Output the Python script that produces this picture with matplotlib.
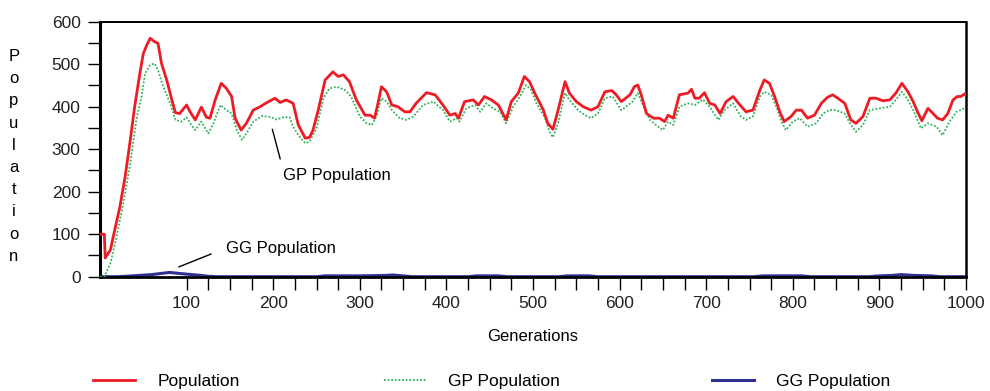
import numpy as np
import matplotlib
matplotlib.use("Agg")
import matplotlib.pyplot as plt
from matplotlib.ticker import FixedLocator

plt.rcParams["font.family"] = ["Liberation Sans", "DejaVu Sans"]

# ------------------------------------------------------
# DATA
# ------------------------------------------------------

pop_gen = [0, 5, 6, 12, 17, 23, 29, 35, 40, 46, 50, 54, 58, 63, 67, 71, 77, 83, 87, 92,
           100, 104, 110, 117, 123, 127, 133, 140, 146, 152, 156, 163, 169, 177, 185, 192,
           202, 208, 215, 223, 229, 237, 242, 246, 252, 260, 269, 275, 281, 288, 296,
           306, 312, 317, 321, 325, 331, 337, 344, 352, 358, 365, 377, 387, 396,
           404, 410, 414, 421, 431, 437, 444, 452, 460, 469, 475, 483, 490, 496,
           502, 512, 517, 523, 529, 537, 542, 550, 558, 567, 575, 583, 591, 596,
           602, 612, 617, 621, 625, 631, 639, 646, 652, 656, 662, 669, 679, 683, 687, 692, 698,
           704, 710, 716, 723, 731, 739, 746, 754, 762, 767, 773, 779, 785, 790, 798,
           804, 810, 817, 825, 833, 840, 846, 852, 860, 867, 873, 881, 889, 896,
           904, 912, 919, 926, 933, 939, 944, 949, 956, 962, 967, 973, 979, 985, 990, 994, 1000]
pop_val = [100, 100, 44, 63, 110, 165, 235, 322, 400, 478, 525, 545, 561, 553, 549, 502, 463, 416, 386, 384,
           404, 388, 369, 399, 375, 373, 416, 455, 443, 424, 373, 345, 361, 392, 400, 409,
           420, 410, 416, 408, 357, 326, 328, 345, 392, 463, 482, 471, 475, 459, 416,
           380, 380, 373, 408, 447, 435, 404, 400, 388, 388, 408, 433, 428, 404,
           380, 384, 373, 412, 416, 404, 424, 416, 404, 369, 412, 432, 471, 459,
           432, 392, 361, 347, 392, 459, 432, 412, 400, 392, 400, 435, 438, 428,
           412, 428, 447, 451, 428, 384, 373, 373, 365, 380, 373, 428, 432, 441, 420, 420, 433,
           408, 404, 384, 412, 424, 404, 388, 392, 439, 463, 455, 424, 388, 365, 377,
           392, 392, 373, 380, 408, 422, 428, 420, 408, 369, 361, 377, 420, 420,
           414, 416, 432, 455, 435, 412, 388, 367, 396, 384, 373, 369, 384, 416, 424, 424, 432]

gp_gen = [0, 5, 12, 19, 27, 35, 42, 48, 52, 58, 63, 67, 73, 81, 87, 94,
          100, 104, 110, 117, 125, 131, 139, 146, 152, 158, 164, 169, 177, 187, 196,
          204, 212, 219, 223, 229, 237, 242, 250, 258, 265, 273, 283, 290,
          300, 308, 314, 319, 325, 331, 337, 346, 354, 362, 373, 385, 396,
          404, 412, 415, 423, 433, 439, 446, 454, 462, 469, 477, 485, 492, 498,
          504, 514, 519, 523, 529, 537, 542, 552, 560, 567, 575, 583, 592,
          602, 610, 615, 621, 627, 635, 642, 650, 656, 662, 669, 679, 687, 696,
          704, 714, 721, 731, 740, 746, 754, 762, 767, 775, 781, 787, 792,
          800, 808, 817, 827, 835, 842, 850, 860, 867, 873, 881, 889,
          900, 912, 919, 926, 933, 940, 948, 956, 966, 973, 981, 989, 998, 1000]
gp_val = [0, 0, 31, 94, 173, 267, 369, 424, 478, 498, 502, 486, 447, 408, 369, 365,
          375, 361, 345, 365, 337, 361, 404, 392, 384, 345, 322, 337, 365, 378, 376,
          370, 375, 375, 353, 333, 314, 318, 349, 420, 443, 447, 439, 424,
          377, 361, 357, 377, 420, 412, 392, 373, 369, 377, 404, 412, 392,
          365, 373, 365, 396, 404, 388, 408, 396, 388, 361, 400, 424, 451, 439,
          408, 373, 341, 328, 361, 432, 416, 392, 380, 373, 384, 420, 424,
          392, 404, 412, 432, 404, 369, 357, 345, 365, 357, 400, 408, 404, 417,
          400, 369, 392, 408, 377, 369, 377, 424, 435, 428, 400, 365, 345,
          365, 373, 353, 361, 384, 392, 392, 384, 357, 341, 357, 392,
          396, 400, 416, 435, 416, 388, 349, 361, 353, 333, 365, 388, 396, 396]

gg_gen = [0, 20, 30, 45, 60, 72, 80, 90, 100, 112, 125, 135,
          250, 260, 300, 330, 338, 350, 360,
          425, 435, 460, 470, 530, 540, 565, 575,
          755, 765, 810, 820, 888, 900, 915, 925, 940, 960, 970, 1000]
gg_val = [0, 0, 1, 3, 5, 8, 10, 8, 6, 4, 1, 0,
          0, 2, 2, 3, 4, 2, 0,
          0, 2, 2, 0, 0, 2, 2, 0,
          0, 2, 2, 0, 0, 2, 3, 5, 3, 2, 0, 0]

x_major = [100, 200, 300, 400, 500, 600, 700, 800, 900, 1000]
y_major = [0, 100, 200, 300, 400, 500, 600]

# ------------------------------------------------------
# PLOT
# ------------------------------------------------------

fig = plt.figure(figsize=(9.9, 3.91), dpi=100)
ax = fig.add_axes([100 / 990, 1 - 276.7 / 391, 866 / 990, 255 / 391])

line_pop, = ax.plot(pop_gen, pop_val, color="#ed1c24", lw=2.0, zorder=4)
line_gp, = ax.plot(gp_gen, gp_val, color="#2fb35c", lw=1.3, ls=(0, (1, 1)), zorder=3)
line_gg, = ax.plot(gg_gen, gg_val, color="#2e3192", lw=2.2, zorder=2)

ax.set_xlim(0, 1000)
ax.set_ylim(0, 600)

ax.set_xticks(x_major)
ax.xaxis.set_minor_locator(FixedLocator(np.arange(125, 1000, 25)))
ax.set_yticks(y_major)
ax.yaxis.set_minor_locator(FixedLocator(np.arange(50, 600, 100)))

ax.tick_params(which="both", direction="out", length=9, width=1, color="black")
ax.tick_params(axis="both", which="major", labelsize=12.5, pad=5, labelcolor="#222222")

ax.spines["left"].set_linewidth(2.2)
ax.spines["bottom"].set_linewidth(2.0)
ax.spines["top"].set_linewidth(1.4)
ax.spines["right"].set_linewidth(1.8)

ax.set_xlabel("Generations", fontsize=12, labelpad=13)

# stacked y label
for i, ch in enumerate("Population"):
    fig.text(14 / 990, 1 - (61 + 22.2 * i) / 391, ch, ha="center", va="baseline",
             fontsize=12)

# annotations
ax.annotate("GP Population", xy=(199, 347), xytext=(211, 237),
            textcoords="data", ha="left", va="center", fontsize=12,
            arrowprops=dict(arrowstyle="-", lw=1, color="black",
                            relpos=(0, 1), shrinkA=5, shrinkB=0))
ax.annotate("GG Population", xy=(91, 23), xytext=(145, 67),
            textcoords="data", ha="left", va="center", fontsize=12,
            arrowprops=dict(arrowstyle="-", lw=1, color="black",
                            relpos=(0, 0.5), shrinkA=9, shrinkB=0))

# legend, three separate entries along the bottom
for handle, label, x0 in [(line_pop, "Population", 93),
                          (line_gp, "GP Population", 384),
                          (line_gg, "GG Population", 712)]:
    fig.legend([handle], [label], loc="center left",
               bbox_to_anchor=(x0 / 990, 10 / 391),
               frameon=False, fontsize=12.5, handlelength=2.4,
               handletextpad=1.3, borderpad=0, borderaxespad=0)

fig.savefig("out.png", dpi=100)
